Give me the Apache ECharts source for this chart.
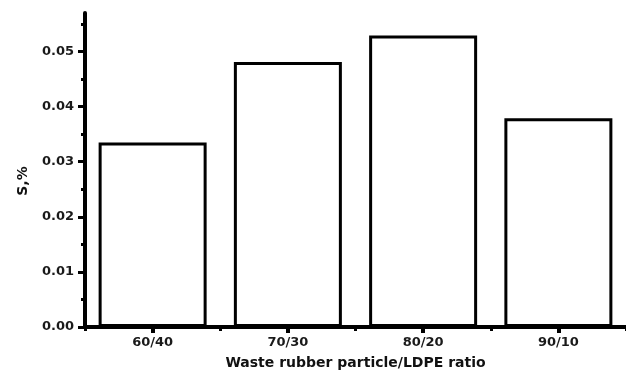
<!DOCTYPE html>
<html>
<head>
<meta charset="utf-8">
<script src="https://cdn.jsdelivr.net/npm/echarts@6/dist/echarts.min.js"></script>
<style>
  html, body { margin: 0; padding: 0; background: #fff; }
  #chart { width: 626px; height: 375px; }
</style>
</head>
<body>
<div id="chart"></div>
<script>
// data
var ratios = ['60/40', '70/30', '80/20', '90/10'];
var sValues = [0.0335, 0.0481, 0.0529, 0.0379];
var yTicks = [0, 0.01, 0.02, 0.03, 0.04, 0.05];

var chart = echarts.init(document.getElementById('chart'));
var font = 'DejaVu Sans, sans-serif';

var option = {
    animation: false,
    // the x axis runs past the right edge in the original
    grid: { left: 85, width: 551, top: 13, bottom: 48 },
    xAxis: [
        {
            type: 'category',
            data: ratios,
            position: 'bottom',
            name: 'Waste rubber particle/LDPE ratio',
            nameLocation: 'middle',
            nameGap: 29,
            nameTextStyle: { fontFamily: font, fontSize: 14, fontWeight: 'bold', color: '#111' },
            axisLine: { lineStyle: { color: '#000', width: 4 } },
            axisTick: { show: true, alignWithLabel: true, length: 6, lineStyle: { color: '#000', width: 4 } },
            axisLabel: { fontFamily: font, fontSize: 13, fontWeight: 'bold', color: '#1a1a1a', margin: 9 },
            splitLine: { show: false }
        },
        {
            // short ticks between categories
            type: 'category',
            data: ratios,
            position: 'bottom',
            axisLine: { show: false },
            axisTick: { show: true, length: 4, lineStyle: { color: '#000', width: 3 } },
            axisLabel: { show: false },
            splitLine: { show: false }
        }
    ],
    yAxis: {
        type: 'value',
        min: 0,
        max: 0.057,
        interval: 0.01,
        name: 'S,%',
        nameLocation: 'middle',
        nameGap: 55,
        nameTextStyle: { fontFamily: font, fontSize: 14, fontWeight: 'bold', color: '#111', padding: [0, 22, 0, 0] },
        axisLine: { show: true, lineStyle: { color: '#000', width: 4 } },
        axisTick: { show: true, length: 7, customValues: yTicks, lineStyle: { color: '#000', width: 3 } },
        minorTick: { show: true, splitNumber: 2, length: 4, lineStyle: { color: '#000', width: 3 } },
        axisLabel: {
            fontFamily: font, fontSize: 13, fontWeight: 'bold', color: '#1a1a1a', margin: 11,
            customValues: yTicks,
            formatter: function (v) { return v.toFixed(2); }
        },
        splitLine: { show: false }
    },
    series: [
        {
            type: 'bar',
            data: sValues,
            barWidth: 108,
            itemStyle: { color: '#fff', borderColor: '#000', borderWidth: 3 }
        }
    ]
};

chart.setOption(option);
</script>
</body>
</html>
